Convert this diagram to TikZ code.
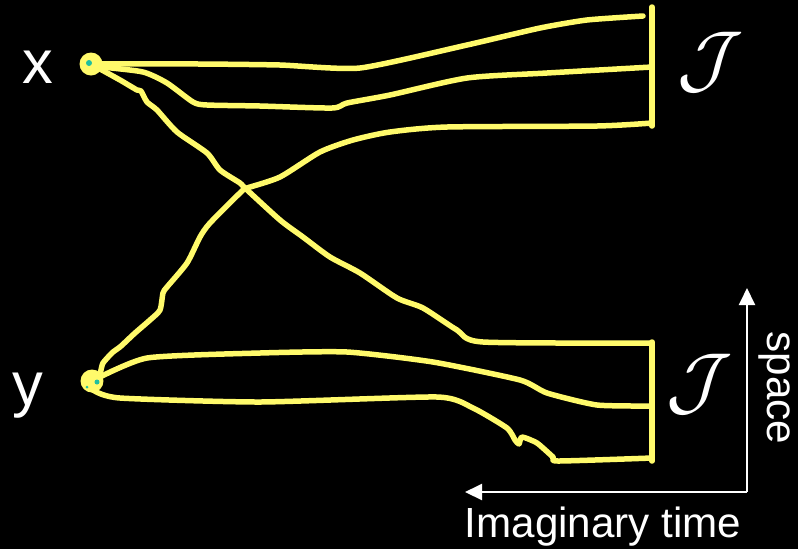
\documentclass[tikz,border=0pt]{standalone}
\usepackage{fontspec}
\setmainfont{Liberation Sans}
\usepackage{amsmath}
\usetikzlibrary{arrows.meta,positioning,calc}
\definecolor{wlYellow}{HTML}{FFFA6B}
\definecolor{wlTeal}{HTML}{1FBFA0}
\tikzset{
  wline/.style={line width=1.1mm, wlYellow, line cap=round, line join=round},
  endpt/.style={circle, fill=wlYellow, minimum size=4.6mm, inner sep=0pt},
  axisline/.style={-{Triangle[length=3.4mm, width=3.2mm]}, white, line width=0.4mm},
  lbl/.style={text=white, inner sep=0pt},
  ptlabel/.style={lbl, font=\fontsize{35}{40}\selectfont, anchor=base},
  axlabel/.style={lbl, font=\fontsize{24}{28}\selectfont, anchor=base},
  jlabel/.style={lbl, font=\fontsize{23}{26}\selectfont, scale=1.75}
}

\begin{document}
\begin{tikzpicture}[x={(0.02cm,0)}, y={(0,-0.02cm)}]
  \useasboundingbox (0,0) rectangle (798,549);
  \fill[black] (0,0) rectangle (798,549);

  % end points and the two J bars
  \coordinate (px) at (91,64);
  \coordinate (py) at (92,381);
  \coordinate (uTop) at (652,7);
  \coordinate (uBot) at (652,126);
  \coordinate (lTop) at (652,342);
  \coordinate (lBot) at (652,461);

  % paths leaving x
  \draw[wline] plot[smooth, tension=0.35] coordinates {(px) (200,64) (280,65) (360,68) (467,45) (540,28) (587,20) (643,16)};
  \draw[wline] plot[smooth, tension=0.4] coordinates {(px) (103,67) (143,72) (167,83) (193,102) (207,105) (260,106) (332,108) (347,103) (390,95) (467,78) (547,73) (652,67)};
  \draw[wline] plot[smooth, tension=0.4] coordinates {(px) (120,80) (137,90) (141,91) (147,102) (157,110) (177,132) (207,153) (220,170) (240,183) (245,188) (280,220) (303,237) (330,257) (360,273) (397,298) (423,308) (457,330) (483,342) (652,343)};

  % paths leaving y
  \draw[wline] plot[smooth, tension=0.4] coordinates {(py) (100,373) (103,363) (113,352) (120,347) (135,333) (150,320) (160,310) (163,293) (167,287) (187,263) (200,237) (210,223) (243,190) (247,188) (280,177) (320,152) (353,140) (390,132) (447,127) (597,126) (652,123)};
  \draw[wline] plot[smooth, tension=0.35] coordinates {(py) (147,358) (260,353) (347,352) (433,362) (520,380) (547,393) (597,405) (652,406)};
  \draw[wline] plot[smooth, tension=0.35] coordinates {(py) (93,390) (120,398) (260,402) (437,397) (473,408) (507,428) (515,440) (519,444) (522,437) (537,443) (553,457) (558,461) (652,458)};

  \draw[wline] (uTop) -- (uBot);
  \draw[wline] (lTop) -- (lBot);

  % dots
  \node[endpt] (xdot) at (px) {};
  \node[endpt] (ydot) at (py) {};
  \fill[wlTeal] (89,63) circle (3);
  \fill[wlTeal] (97,382) circle (2.5);
  \fill[wlTeal] (87,387) circle (1.5);

  % labels
  \node[ptlabel] (xlbl) at (38,83) {x};
  \node[ptlabel] (ylbl) at (28,405) {y};
  \node[jlabel] (jup) at (710,62) {$\mathcal{J}$};
  \node[jlabel] (jlow) at (699,384) {$\mathcal{J}$};

  % axes
  \coordinate (corner) at (747,492);
  \coordinate (tUp) at (747,288);
  \coordinate (tLeft) at (465,492);
  \draw[axisline] (corner) -- (tUp);
  \draw[axisline] (corner) -- (tLeft);
  \node[axlabel] (tlbl) at (603,537) {Imaginary time};
  \node[axlabel, rotate=-90] (slbl) at (767,388) {space};
\end{tikzpicture}
\end{document}
